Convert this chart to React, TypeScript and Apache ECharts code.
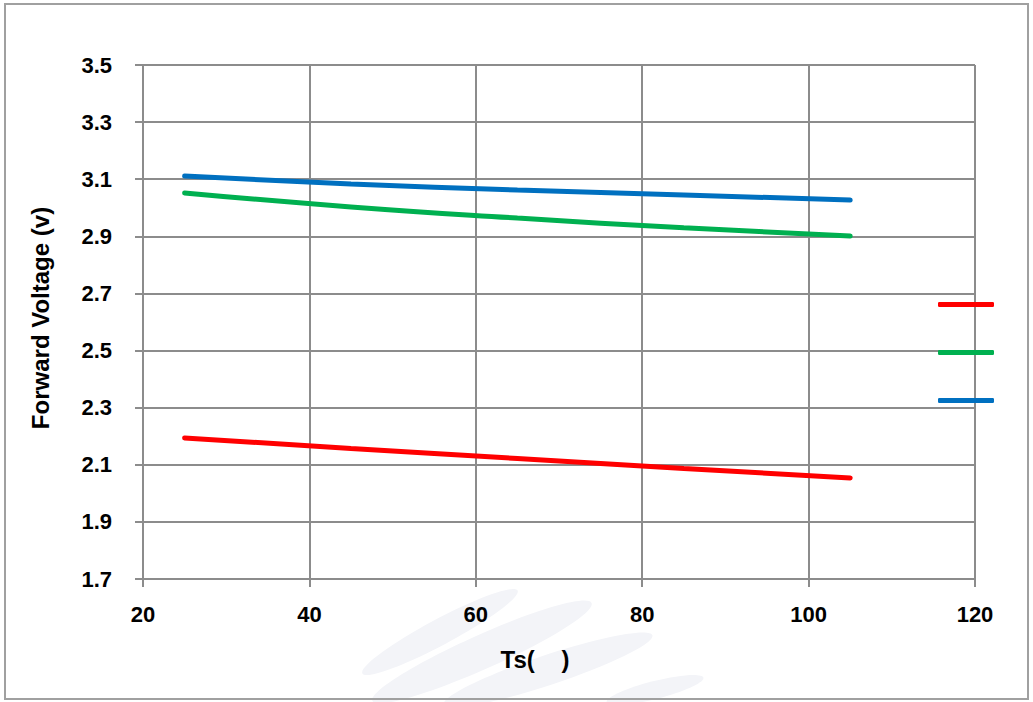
import React, { useEffect, useRef } from "react";
import * as echarts from "echarts";

const temps = [25, 45, 65, 85, 105];
const redValues = [2.194, 2.157, 2.122, 2.087, 2.054];
const greenValues = [3.052, 3.003, 2.964, 2.930, 2.901];
const blueValues = [3.111, 3.083, 3.062, 3.045, 3.027];
const seriesNames = ["R", "G", "B"];
const seriesColors = ["#FF0000", "#00B050", "#0070C0"];

const Y_MIN = 1.7;
const Y_MAX = 3.5;
const Y_STEP = 0.2;
const X_MIN = 20;
const X_MAX = 120;
const X_STEP = 20;

const GRAY = "#8c8c8c";
const FONT = "'Liberation Sans', Arial, sans-serif";

export default function App() {
  const ref = useRef<HTMLDivElement>(null);

  useEffect(() => {
    document.body.style.margin = "0";
    if (!ref.current) return;
    const chart = echarts.init(ref.current, null, { renderer: "svg" });
    const all = [redValues, greenValues, blueValues];
    const series = all.map((vals, i) => ({
      name: seriesNames[i],
      type: "line",
      smooth: true,
      showSymbol: false,
      symbol: "none",
      z: 3,
      data: temps.map((t, k) => [t, +(vals[k] - Y_MIN).toFixed(4)]),
      lineStyle: { color: seriesColors[i], width: 5, cap: "round" },
      itemStyle: { color: seriesColors[i] },
    }));

    const wm = "#f3f4f8";
    chart.setOption({
      animation: false,
      backgroundColor: "#ffffff",
      graphic: [
        {
          type: "group",
          silent: true,
          z: -1,
          children: [
            { type: "ellipse", x: 440, y: 632, rotation: 0.49, shape: { cx: 0, cy: 0, rx: 88, ry: 13 }, style: { fill: wm } },
            { type: "ellipse", x: 482, y: 652, rotation: 0.42, shape: { cx: 0, cy: 0, rx: 120, ry: 17 }, style: { fill: wm } },
            { type: "ellipse", x: 548, y: 670, rotation: 0.32, shape: { cx: 0, cy: 0, rx: 110, ry: 15 }, style: { fill: wm } },
            { type: "ellipse", x: 655, y: 690, rotation: 0.25, shape: { cx: 0, cy: 0, rx: 50, ry: 9 }, style: { fill: wm } },
          ],
        },
        {
          type: "rect",
          silent: true,
          z: 10,
          shape: { x: 5, y: 4, width: 1023, height: 695 },
          style: { fill: "none", stroke: "#a0a0a0", lineWidth: 2 },
        },
      ],
      grid: { left: 143, right: 58, top: 65, bottom: 123, containLabel: false },
      legend: {
        orient: "vertical",
        left: 938,
        top: 302,
        padding: 0,
        itemWidth: 56,
        itemHeight: 5,
        itemGap: 43,
        icon: "roundRect",
        formatter: () => "",
        data: seriesNames.map((n, i) => ({ name: n, itemStyle: { color: seriesColors[i] } })),
        textStyle: { fontSize: 1, padding: 0 },
        z: 5,
      },
      xAxis: {
        type: "value",
        min: X_MIN,
        max: X_MAX,
        interval: X_STEP,
        name: "Ts(    )",
        nameLocation: "middle",
        nameGap: 68,
        nameTextStyle: { fontFamily: FONT, fontWeight: "bold", fontSize: 24, color: "#000", padding: [0, 48, 0, 0] },
        axisLine: { show: true, lineStyle: { color: GRAY, width: 2 } },
        axisTick: { show: true, length: 8, lineStyle: { color: GRAY, width: 2 } },
        axisLabel: { margin: 24, fontFamily: FONT, fontWeight: "bold", fontSize: 22, color: "#000" },
        splitLine: { show: true, lineStyle: { color: GRAY, width: 2 } },
      },
      yAxis: {
        type: "value",
        min: 0,
        max: +(Y_MAX - Y_MIN).toFixed(2),
        interval: Y_STEP,
        name: "Forward Voltage (v)",
        nameLocation: "middle",
        nameGap: 91,
        nameTextStyle: { fontFamily: FONT, fontWeight: "bold", fontSize: 24, color: "#000", padding: [0, 0, 0, 8] },
        axisLine: { show: true, lineStyle: { color: GRAY, width: 2 } },
        axisTick: { show: true, length: 8, lineStyle: { color: GRAY, width: 2 } },
        axisLabel: {
          margin: 31,
          fontFamily: FONT,
          fontWeight: "bold",
          fontSize: 22,
          color: "#000",
          formatter: (v: number) => (v + Y_MIN).toFixed(1),
        },
        splitLine: { show: true, lineStyle: { color: GRAY, width: 2 } },
      },
      series,
    });
    return () => chart.dispose();
  }, []);

  return <div ref={ref} style={{ width: 1033, height: 702 }} />;
}
